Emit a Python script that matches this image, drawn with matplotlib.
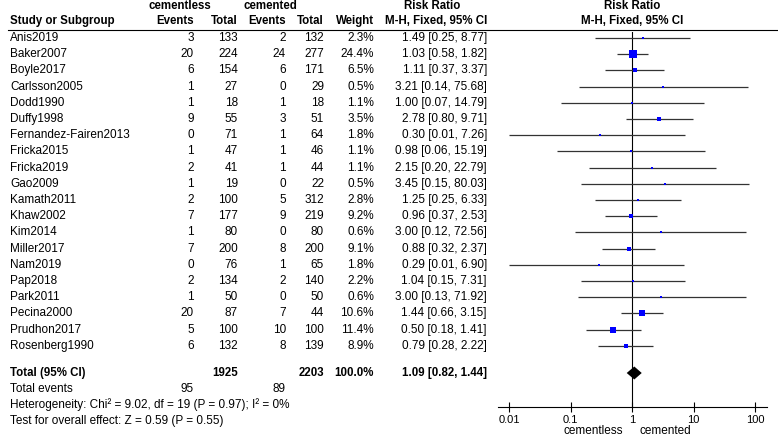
import matplotlib
matplotlib.use("Agg")
import matplotlib.pyplot as plt
import numpy as np

# study-level data
studies = ["Anis2019", "Baker2007", "Boyle2017", "Carlsson2005", "Dodd1990", "Duffy1998",
           "Fernandez-Fairen2013", "Fricka2015", "Fricka2019", "Gao2009", "Kamath2011",
           "Khaw2002", "Kim2014", "Miller2017", "Nam2019", "Pap2018", "Park2011",
           "Pecina2000", "Prudhon2017", "Rosenberg1990"]
events_cl = [3, 20, 6, 1, 1, 9, 0, 1, 2, 1, 2, 7, 1, 7, 0, 2, 1, 20, 5, 6]
total_cl = [133, 224, 154, 27, 18, 55, 71, 47, 41, 19, 100, 177, 80, 200, 76, 134, 50, 87, 100, 132]
events_c = [2, 24, 6, 0, 1, 3, 1, 1, 1, 0, 5, 9, 0, 8, 1, 2, 0, 7, 10, 8]
total_c = [132, 277, 171, 29, 18, 51, 64, 46, 44, 22, 312, 219, 80, 200, 65, 140, 50, 44, 100, 139]
weights = [2.3, 24.4, 6.5, 0.5, 1.1, 3.5, 1.8, 1.1, 1.1, 0.5, 2.8, 9.2, 0.6, 9.1, 1.8, 2.2, 0.6, 10.6, 11.4, 8.9]
rr = [1.49, 1.03, 1.11, 3.21, 1.00, 2.78, 0.30, 0.98, 2.15, 3.45, 1.25, 0.96, 3.00, 0.88, 0.29, 1.04, 3.00, 1.44, 0.50, 0.79]
ci_lo = [0.25, 0.58, 0.37, 0.14, 0.07, 0.80, 0.01, 0.06, 0.20, 0.15, 0.25, 0.37, 0.12, 0.32, 0.01, 0.15, 0.13, 0.66, 0.18, 0.28]
ci_hi = [8.77, 1.82, 3.37, 75.68, 14.79, 9.71, 7.26, 15.19, 22.79, 80.03, 6.33, 2.53, 72.56, 2.37, 6.90, 7.31, 71.92, 3.15, 1.41, 2.22]

sum_total_cl, sum_total_c = 1925, 2203
sum_events_cl, sum_events_c = 95, 89
pooled = (1.09, 0.82, 1.44)
heterogeneity = "Heterogeneity: Chi\u00b2 = 9.02, df = 19 (P = 0.97); I\u00b2 = 0%"
overall_test = "Test for overall effect: Z = 0.59 (P = 0.55)"
xticks = [0.01, 0.1, 1, 10, 100]
xtick_labels = ["0.01", "0.1", "1", "10", "100"]

plt.rcParams['font.family'] = ['Liberation Sans', 'DejaVu Sans']
FS = 8.5
FSB = 8.3

W, H = 778, 438
ROW0, STEP = 38, 16.2


def ry(px):
    # pixel height -> row units
    return (px - ROW0) / STEP


fig = plt.figure(figsize=(W / 100, H / 100), dpi=100)

tab = fig.add_axes([0, 0, 1, 1])
tab.set_xlim(0, W)
tab.set_ylim(ry(H), ry(0))
tab.axis('off')

# forest panel
ax_l, ax_r, ax_top, ax_bot = 498, 767, 32, 407
ax = fig.add_axes([ax_l / W, (H - ax_bot) / H, (ax_r - ax_l) / W, (ax_bot - ax_top) / H])
ax.set_xscale('log')
dec = 61.5
ax.set_xlim(0.01 * 10 ** (-(509 - ax_l) / dec), 100 * 10 ** ((ax_r - 755) / dec))
ax.set_ylim(ry(ax_bot), ry(ax_top))
for s in ['left', 'right', 'top']:
    ax.spines[s].set_visible(False)
ax.spines['bottom'].set_linewidth(0.8)
ax.set_yticks([])
ax.set_xticks(xticks)
ax.set_xticklabels(xtick_labels, fontsize=8)
ax.minorticks_off()
ax.tick_params(axis='x', direction='inout', length=7, width=0.8, pad=2)
ax.axvline(1, color='black', lw=0.8)

# headers
bold = dict(fontsize=FSB, fontweight='bold', va='center')
tab.text(180, ry(6), "cementless", ha='center', **bold)
tab.text(270, ry(6), "cemented", ha='center', **bold)
tab.text(432, ry(6), "Risk Ratio", ha='center', **bold)
tab.text(632, ry(6), "Risk Ratio", ha='center', **bold)
tab.text(10, ry(21), "Study or Subgroup", ha='left', **bold)
for x, lab in [(194, "Events"), (238, "Total"), (286, "Events"), (324, "Total"), (374, "Weight"),
               (487, "M-H, Fixed, 95% CI")]:
    tab.text(x, ry(21), lab, ha='right', **bold)
tab.text(632, ry(21), "M-H, Fixed, 95% CI", ha='center', **bold)
tab.plot([8, W], [ry(30), ry(30)], color='black', lw=0.8)

# study rows
norm = dict(fontsize=FS, va='center')
for i, name in enumerate(studies):
    tab.text(10, i, name, ha='left', **norm)
    tab.text(194, i, str(events_cl[i]), ha='right', **norm)
    tab.text(238, i, str(total_cl[i]), ha='right', **norm)
    tab.text(286, i, str(events_c[i]), ha='right', **norm)
    tab.text(324, i, str(total_c[i]), ha='right', **norm)
    tab.text(374, i, f"{weights[i]:.1f}%", ha='right', **norm)
    tab.text(487, i, f"{rr[i]:.2f} [{ci_lo[i]:.2f}, {ci_hi[i]:.2f}]", ha='right', **norm)

    ax.plot([ci_lo[i], ci_hi[i]], [i, i], color='#333333', lw=0.9, solid_capstyle='butt')
    side_px = max(2.2, 8.0 * np.sqrt(weights[i] / max(weights)))
    ax.plot(rr[i], i, marker='s', color='#0000ff', markersize=side_px / 1.389, markeredgewidth=0)

# totals
ty = ry(373)
tab.text(10, ty, "Total (95% CI)", ha='left', **bold)
tab.text(238, ty, str(sum_total_cl), ha='right', **bold)
tab.text(324, ty, str(sum_total_c), ha='right', **bold)
tab.text(374, ty, "100.0%", ha='right', **bold)
tab.text(487, ty, f"{pooled[0]:.2f} [{pooled[1]:.2f}, {pooled[2]:.2f}]", ha='right', **bold)
ax.fill([pooled[1], pooled[0], pooled[2], pooled[0]], [ty, ty - 0.4, ty, ty + 0.4],
        color='black', lw=0)

tab.text(10, ry(389), "Total events", ha='left', **norm)
tab.text(194, ry(389), str(sum_events_cl), ha='right', **norm)
tab.text(286, ry(389), str(sum_events_c), ha='right', **norm)
tab.text(10, ry(405), heterogeneity, ha='left', **norm)
tab.text(10, ry(421), overall_test, ha='left', **norm)

tab.text(593, ry(431), "cementless", ha='center', **norm)
tab.text(665, ry(431), "cemented", ha='center', **norm)

fig.savefig("out.png", dpi=100)
